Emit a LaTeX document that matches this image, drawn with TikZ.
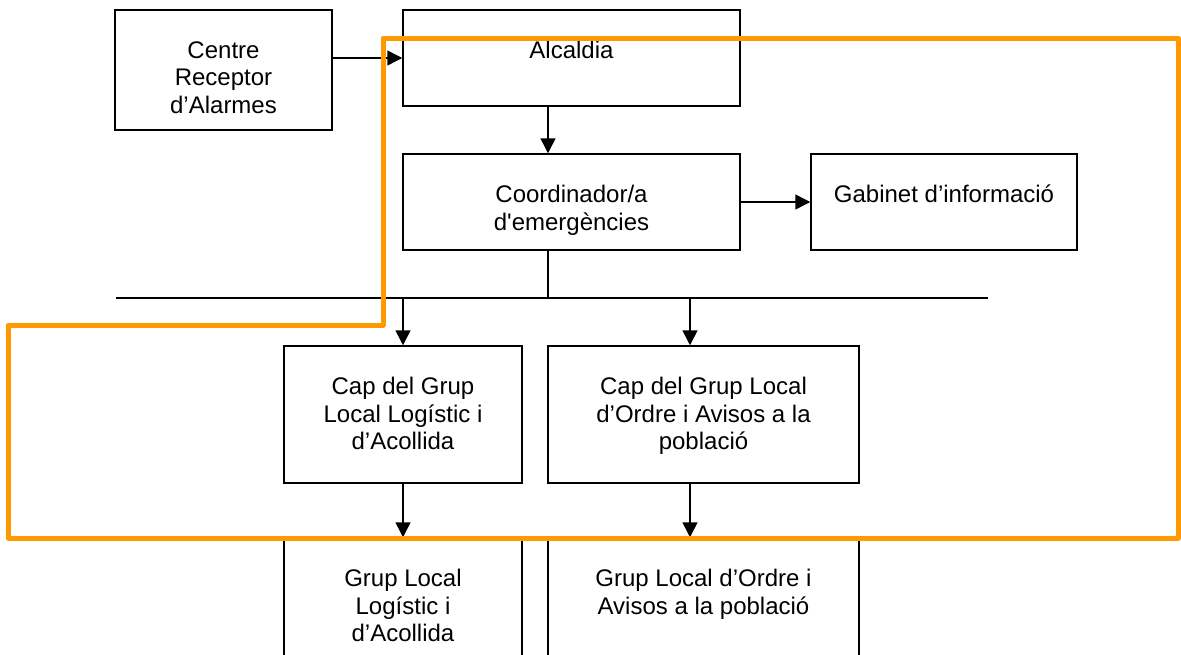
\documentclass[tikz,border=0pt]{standalone}
\usepackage{fontspec}
\setmainfont{Liberation Sans}[Ligatures=TeXOff]
\usetikzlibrary{arrows.meta}
\definecolor{marc}{RGB}{255,153,0}

\begin{document}
\begin{tikzpicture}
      [x=0.5pt, y=-0.5pt,
      box/.style={draw=black, line width=0.75pt, inner sep=0pt},
      txt/.style={anchor=north, align=center, inner sep=0pt,
        font=\fontsize{12}{13.8}\selectfont},
      arr/.style={-{Triangle[length=7.5pt,width=7.5pt]}, line width=0.75pt},
      frame/.style={draw=marc, line width=2.5pt, line join=round}]
      \clip (0,0) rectangle (1181,654);
      % boxes
      \node (cra) at (223.5,70) [box, minimum width=108.5pt, minimum height=60pt] {};
      \node (alc) at (571.5,58) [box, minimum width=168.5pt, minimum height=48pt] {};
      \node (coord) at (571.5,202) [box, minimum width=168.5pt, minimum height=48pt] {};
      \node (gab) at (944,202) [box, minimum width=133pt, minimum height=48pt] {};
      \node (capl) at (403,414.5) [box, minimum width=119pt, minimum height=68.5pt] {};
      \node (capo) at (703.5,414.5) [box, minimum width=155.5pt, minimum height=68.5pt] {};
      \node (grupl) at (403,600) [box, minimum width=119pt, minimum height=62pt] {};
      \node (grupo) at (703.5,600) [box, minimum width=155.5pt, minimum height=62pt] {};
      % texts
      \node (cra-t) at ([yshift=-15.8pt]cra.north) [txt] {Centre\\Receptor\\d’Alarmes};
      \node (alc-t) at ([yshift=-15.8pt]alc.north) [txt] {Alcaldia};
      \node (coord-t) at ([yshift=-15.8pt]coord.north) [txt] {Coordinador/a\\d'emergències};
      \node (gab-t) at ([yshift=-15.8pt]gab.north) [txt] {Gabinet d’informació};
      \node (capl-t) at ([yshift=-15.8pt]capl.north) [txt] {Cap del Grup\\Local Logístic i\\d’Acollida};
      \node (capo-t) at ([yshift=-15.8pt]capo.north) [txt] {Cap del Grup Local\\d’Ordre i Avisos a la\\població};
      \node (grupl-t) at ([yshift=-15.8pt]grupl.north) [txt] {Grup Local\\Logístic i\\d’Acollida};
      \node (grupo-t) at ([yshift=-15.8pt]grupo.north) [txt] {Grup Local d’Ordre i\\Avisos a la població};
      % connectors
      \coordinate (stem) at (548,298);
      \coordinate (busl) at (116,298);
      \coordinate (busr) at (988,298);
      \coordinate (jl) at (403,298);
      \coordinate (jo) at (690,298);
      \draw[arr] (cra.east |- alc.west) -- (alc.west);
      \draw[arr] (stem |- alc.south) -- (stem |- coord.north);
      \draw[arr] (coord.east) -- (coord.east -| gab.west);
      \draw[line width=0.75pt] (stem |- coord.south) -- (stem);
      \draw[line width=0.75pt] (busl) -- (busr);
      \draw[arr] (jl) -- (capl.north);
      \draw[arr] (jo) -- (jo |- capo.north);
      \draw[arr] (capl.south) -- (grupl.north);
      \draw[arr] (jo |- capo.south) -- (jo |- grupo.north);
      % frame
      \draw[frame] (383,38) -- (1178,38) -- (1178,538) -- (8,538)
        -- (8,325) -- (383,325) -- cycle;
\end{tikzpicture}
\end{document}
